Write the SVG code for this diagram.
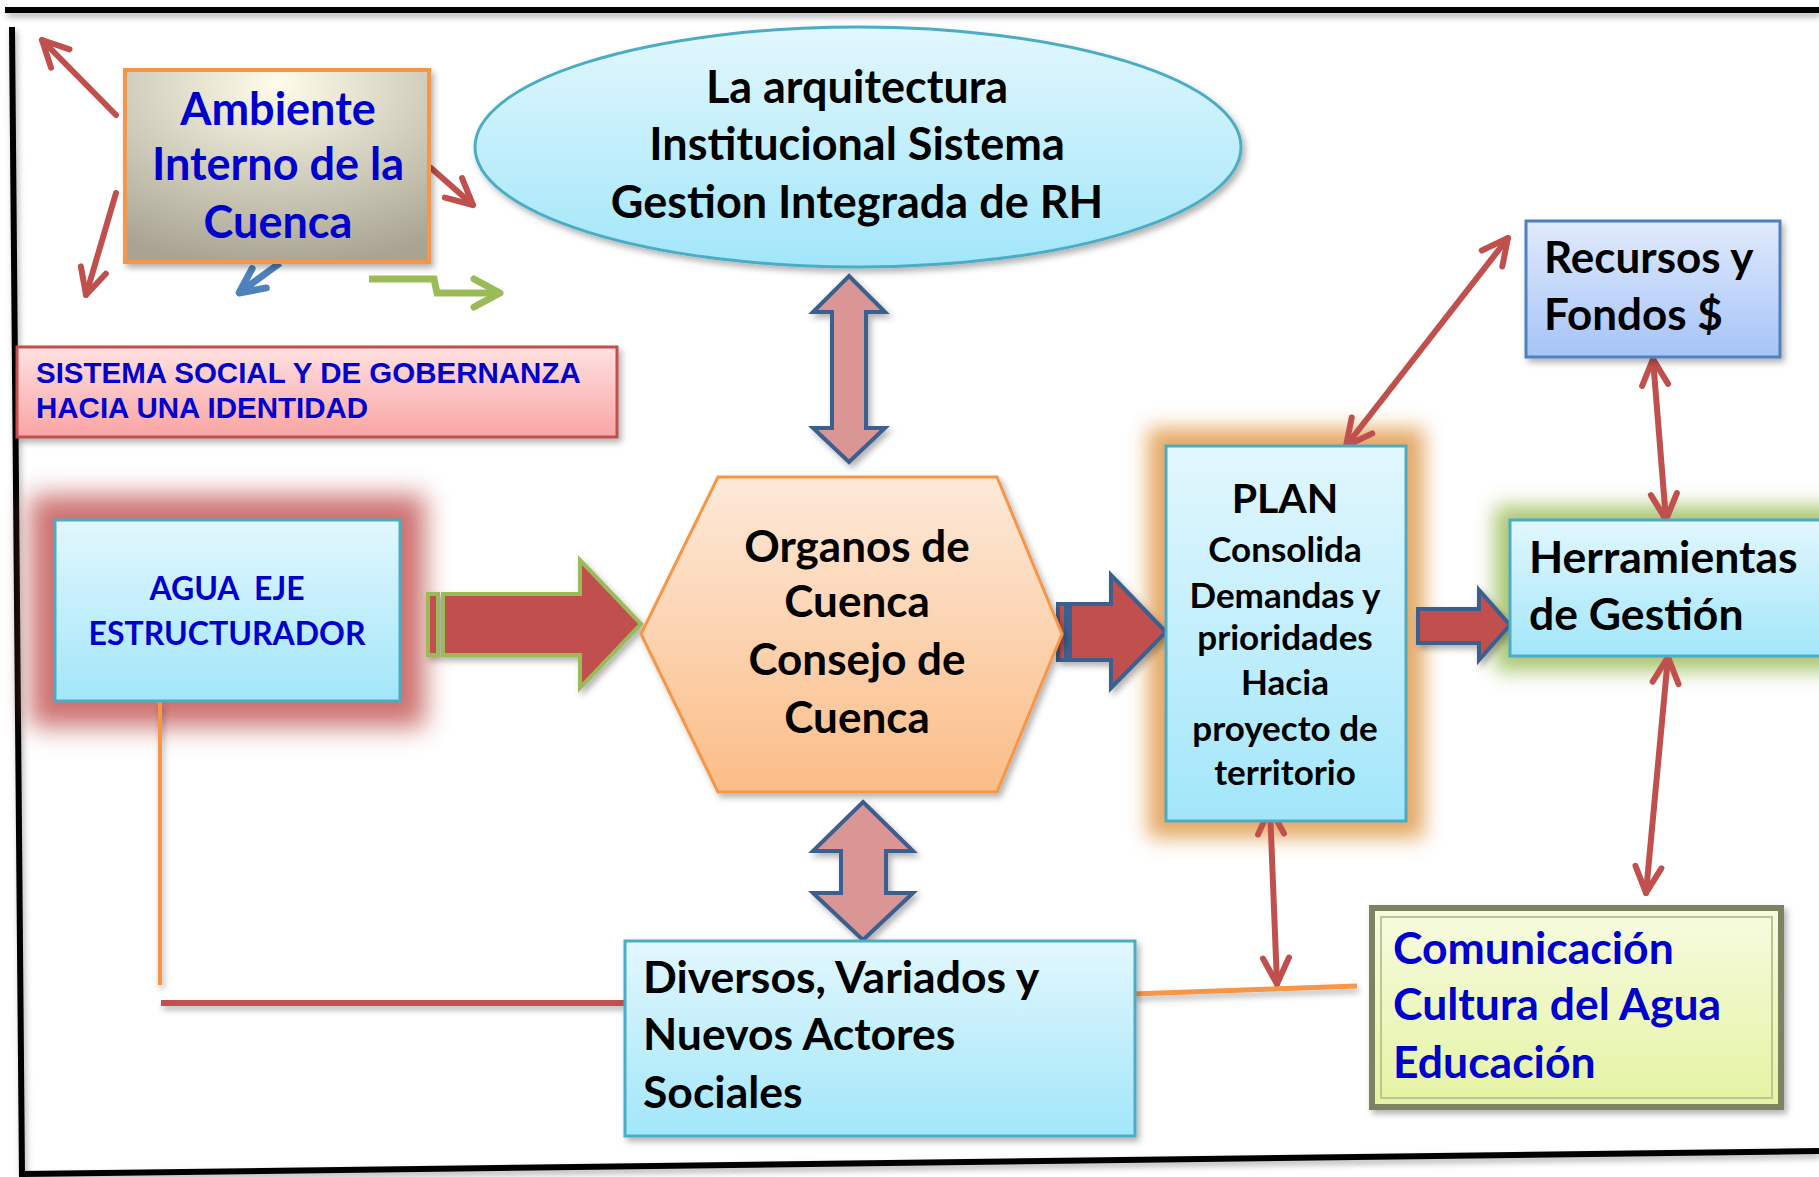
<svg xmlns="http://www.w3.org/2000/svg" width="1819" height="1177" viewBox="0 0 1819 1177">
<style>
.t{font-family:Lato,"Open Sans","DejaVu Sans",sans-serif;font-weight:700;}
.blk{fill:#000;}
.blu{fill:#0000CC;}
.big{font-size:44.5px;}
.mid{font-size:35px;}
.red{stroke:#C0504D;fill:none;stroke-linecap:round;}
</style>
<defs>
<filter id="sh" x="-20%" y="-20%" width="140%" height="140%"><feDropShadow dx="3" dy="4" stdDeviation="3" flood-color="#000" flood-opacity="0.3"/></filter>
<filter id="lsh" x="-5%" y="-50%" width="110%" height="200%"><feDropShadow dx="2" dy="4" stdDeviation="3" flood-color="#000" flood-opacity="0.3"/></filter>
<filter id="blur" x="-30%" y="-30%" width="160%" height="160%"><feGaussianBlur stdDeviation="13"/></filter>
<filter id="blur2" x="-30%" y="-30%" width="160%" height="160%"><feGaussianBlur stdDeviation="10"/></filter>
<radialGradient id="gAmb" cx="0.5" cy="0.08" r="0.95"><stop offset="0" stop-color="#FFFCEA"/><stop offset="1" stop-color="#A8A392"/></radialGradient>
<linearGradient id="gBlue" x1="0" y1="0" x2="0" y2="1"><stop offset="0" stop-color="#E2F7FD"/><stop offset="1" stop-color="#A2E6FA"/></linearGradient>
<linearGradient id="gRec" x1="0" y1="0" x2="0" y2="1"><stop offset="0" stop-color="#E0EAFC"/><stop offset="1" stop-color="#A6C4F8"/></linearGradient>
<linearGradient id="gHex" x1="0" y1="0" x2="0" y2="1"><stop offset="0" stop-color="#FDE9D9"/><stop offset="1" stop-color="#FBBD87"/></linearGradient>
<linearGradient id="gPink" x1="0" y1="0" x2="0" y2="1"><stop offset="0" stop-color="#FFE1E1"/><stop offset="1" stop-color="#FAA4A4"/></linearGradient>
<linearGradient id="gCom" x1="0" y1="0" x2="0" y2="1"><stop offset="0" stop-color="#F7FBE0"/><stop offset="1" stop-color="#E4F3A2"/></linearGradient>
<marker id="hR" viewBox="0 0 34 34" refX="31" refY="17" markerWidth="34" markerHeight="34" markerUnits="userSpaceOnUse" orient="auto-start-reverse"><path d="M5,4 L31,17 L5,30" fill="none" stroke="#C0504D" stroke-width="6" stroke-linecap="round" stroke-linejoin="round"/></marker>
<marker id="hB" viewBox="0 0 34 34" refX="31" refY="17" markerWidth="34" markerHeight="34" markerUnits="userSpaceOnUse" orient="auto"><path d="M6,5 L31,17 L6,29" fill="none" stroke="#4F81BD" stroke-width="7" stroke-linecap="round" stroke-linejoin="round"/></marker>
<marker id="hG" viewBox="0 0 40 40" refX="36" refY="20" markerWidth="40" markerHeight="40" markerUnits="userSpaceOnUse" orient="auto"><path d="M10,6 L36,20 L10,34" fill="none" stroke="#9BBB59" stroke-width="7" stroke-linecap="round" stroke-linejoin="round"/></marker>
</defs>
<rect width="1819" height="1177" fill="#fff"/>
<g id="frame" filter="url(#lsh)" stroke="#000" stroke-width="6" fill="none">
<line x1="5" y1="10" x2="1819" y2="10"/>
<line x1="12" y1="27" x2="22" y2="1177"/>
<line x1="22" y1="1174" x2="1819" y2="1151"/>
</g>
<g id="glows">
<rect x="30" y="495" width="395" height="232" fill="#C0504D" opacity="0.8" filter="url(#blur)"/>
<rect x="1148" y="428" width="276" height="410" fill="#E09A4C" opacity="0.85" filter="url(#blur2)"/>
<rect x="1495" y="506" width="345" height="165" fill="#9BBB59" opacity="0.85" filter="url(#blur2)"/>
</g>
<g id="connectors">
<g class="red" stroke-width="6">
<line x1="116" y1="115" x2="42" y2="40" marker-end="url(#hR)"/>
<line x1="431" y1="168" x2="473" y2="205" marker-end="url(#hR)"/>
<line x1="116" y1="193" x2="86" y2="295" marker-end="url(#hR)"/>
<line x1="1346" y1="446" x2="1508" y2="238" marker-start="url(#hR)" marker-end="url(#hR)"/>
<line x1="1653" y1="359" x2="1666" y2="520" marker-start="url(#hR)" marker-end="url(#hR)"/>
<line x1="1668" y1="657" x2="1646" y2="893" marker-start="url(#hR)" marker-end="url(#hR)"/>
<line x1="1270" y1="808" x2="1277" y2="984" marker-start="url(#hR)" marker-end="url(#hR)"/>
</g>
<line x1="280" y1="263" x2="239" y2="293" stroke="#4F81BD" stroke-width="7" marker-end="url(#hB)"/>
<polyline points="369,279 434,279 437,293 500,293" fill="none" stroke="#9BBB59" stroke-width="7" marker-end="url(#hG)"/>
<g filter="url(#lsh)">
<line x1="1133" y1="994" x2="1357" y2="986" stroke="#F79646" stroke-width="5"/>
<line x1="160" y1="701" x2="160" y2="985" stroke="#F79646" stroke-width="4"/>
<line x1="161" y1="1003" x2="625" y2="1003" stroke="#C0504D" stroke-width="6"/>
</g>
<g filter="url(#sh)" stroke-width="4" stroke-linejoin="miter">
<polygon points="849,276 885,312 866,312 866,428 885,428 849,462 813,428 832,428 832,312 813,312" fill="#D99694" stroke="#3B5F8E"/>
<polygon points="863,802 913,851 886,851 886,893 913,893 863,940 813,893 841,893 841,851 813,851" fill="#D99694" stroke="#3B5F8E"/>
<rect x="428" y="594" width="10" height="61" fill="#C0504D" stroke="#9BBB59"/>
<polygon points="443,594 580,594 580,560 641,624 580,688 580,655 443,655" fill="#C0504D" stroke="#9BBB59"/>
<rect x="1058" y="604" width="8" height="56" fill="#C0504D" stroke="#3B5F8E"/>
<polygon points="1070,604 1111,604 1111,575 1166,632 1111,688 1111,660 1070,660" fill="#C0504D" stroke="#3B5F8E"/>
<polygon points="1418,609 1479,609 1479,590 1510,625 1479,660 1479,643 1418,643" fill="#C0504D" stroke="#3B5F8E"/>
</g>
</g>
<g id="ambiente">
<rect x="125" y="70" width="304" height="192" fill="url(#gAmb)" stroke="#F79646" stroke-width="4" filter="url(#sh)"/>
<text class="t blu" font-size="45" text-anchor="middle"><tspan x="278" y="125">Ambiente</tspan><tspan x="278" y="180">Interno de la</tspan><tspan x="278" y="238">Cuenca</tspan></text>
</g>
<g id="arquitectura">
<ellipse cx="858" cy="147" rx="383" ry="120" fill="url(#gBlue)" stroke="#4BACC6" stroke-width="3" filter="url(#sh)"/>
<text class="t blk" font-size="45" text-anchor="middle"><tspan x="857" y="103">La arquitectura</tspan><tspan x="857" y="160">Institucional Sistema</tspan><tspan x="857" y="218">Gestion Integrada de RH</tspan></text>
</g>
<g id="sistema">
<rect x="17" y="347" width="600" height="90" fill="url(#gPink)" stroke="#C0504D" stroke-width="3" filter="url(#sh)"/>
<text font-family="'Liberation Sans',Arial,sans-serif" font-weight="700" font-size="29.5" fill="#0000CC"><tspan x="36" y="383">SISTEMA SOCIAL Y DE GOBERNANZA</tspan><tspan x="36" y="418">HACIA UNA IDENTIDAD</tspan></text>
</g>
<g id="recursos">
<rect x="1526" y="221" width="254" height="136" fill="url(#gRec)" stroke="#4F81BD" stroke-width="3" filter="url(#sh)"/>
<text class="t blk" font-size="44"><tspan x="1544" y="273">Recursos y</tspan><tspan x="1544" y="330">Fondos $</tspan></text>
</g>
<g id="agua">
<rect x="55" y="520" width="345" height="181" fill="url(#gBlue)" stroke="#4BACC6" stroke-width="3"/>
<text class="t blu" font-size="32" text-anchor="middle" style="white-space:pre"><tspan x="227" y="600">AGUA  EJE</tspan><tspan x="227" y="645">ESTRUCTURADOR</tspan></text>
</g>
<g id="organos">
<polygon points="718,477 997,477 1062,634 997,792 718,792 641,634" fill="url(#gHex)" stroke="#F79646" stroke-width="3" filter="url(#sh)"/>
<text class="t blk" font-size="44" text-anchor="middle"><tspan x="857" y="562">Organos de</tspan><tspan x="857" y="617">Cuenca</tspan><tspan x="857" y="675">Consejo de</tspan><tspan x="857" y="733">Cuenca</tspan></text>
</g>
<g id="plan">
<rect x="1166" y="446" width="240" height="375" fill="url(#gBlue)" stroke="#4BACC6" stroke-width="3"/>
<text class="t blk" text-anchor="middle"><tspan x="1285" y="513" font-size="41">PLAN</tspan><tspan class="mid" x="1285" y="562">Consolida</tspan><tspan class="mid" x="1285" y="608">Demandas y</tspan><tspan class="mid" x="1285" y="650">prioridades</tspan><tspan class="mid" x="1285" y="695">Hacia</tspan><tspan class="mid" x="1285" y="741">proyecto de</tspan><tspan class="mid" x="1285" y="785">territorio</tspan></text>
</g>
<g id="herramientas">
<rect x="1510" y="520" width="330" height="136" fill="url(#gBlue)" stroke="#4BACC6" stroke-width="3"/>
<text class="t blk big"><tspan x="1529" y="573">Herramientas</tspan><tspan x="1529" y="630">de Gestión</tspan></text>
</g>
<g id="diversos">
<rect x="625" y="941" width="510" height="195" fill="url(#gBlue)" stroke="#4BACC6" stroke-width="3" filter="url(#sh)"/>
<text class="t blk big"><tspan x="643" y="993">Diversos, Variados y</tspan><tspan x="643" y="1050">Nuevos Actores</tspan><tspan x="643" y="1108">Sociales</tspan></text>
</g>
<g id="comunicacion">
<rect x="1372" y="908" width="409" height="199" fill="url(#gCom)" stroke="#7E8260" stroke-width="6" filter="url(#sh)"/>
<rect x="1381" y="917" width="391" height="181" fill="none" stroke="#BFC494" stroke-width="2"/>
<text class="t blu big"><tspan x="1393" y="964">Comunicación</tspan><tspan x="1393" y="1020">Cultura del Agua</tspan><tspan x="1393" y="1078">Educación</tspan></text>
</g>
</svg>
